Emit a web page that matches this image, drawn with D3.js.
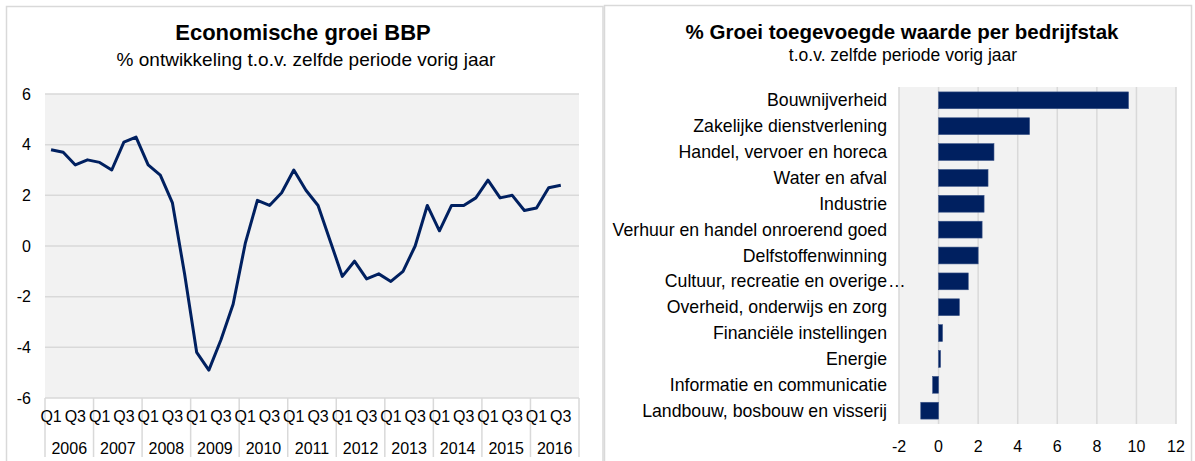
<!DOCTYPE html>
<html>
<head>
<meta charset="utf-8">
<script src="https://cdn.jsdelivr.net/npm/d3@7"></script>
<style>
  body { margin: 0; background: #fff; }
  svg { display: block; font-family: "Liberation Sans", Arial, sans-serif; }
</style>
</head>
<body>
<svg id="chart" width="1195" height="461"></svg>
<script>
// ---- data ----
var years = ["2006", "2007", "2008", "2009", "2010", "2011", "2012", "2013", "2014", "2015", "2016"];
var quarterNames = ["Q1", "Q2", "Q3", "Q4"];
var growth = [3.8, 3.7, 3.2, 3.4, 3.3, 3.0, 4.1, 4.3,
              3.2, 2.8, 1.7, -1.1, -4.2, -4.9, -3.7, -2.3,
              0.1, 1.8, 1.6, 2.1, 3.0, 2.2, 1.6, 0.2,
              -1.2, -0.6, -1.3, -1.1, -1.4, -1.0, 0.0, 1.6,
              0.6, 1.6, 1.6, 1.9, 2.6, 1.9, 2.0, 1.4,
              1.5, 2.3, 2.4];
var growthTicks = [-6, -4, -2, 0, 2, 4, 6];

var sectors = ["Bouwnijverheid", "Zakelijke dienstverlening", "Handel, vervoer en horeca",
               "Water en afval", "Industrie", "Verhuur en handel onroerend goed",
               "Delfstoffenwinning", "Cultuur, recreatie en overige…", "Overheid, onderwijs en zorg",
               "Financiële instellingen", "Energie", "Informatie en communicatie",
               "Landbouw, bosbouw en visserij"];
var sectorGrowth = [9.6, 4.6, 2.8, 2.5, 2.3, 2.2, 2.0, 1.5, 1.05, 0.2, 0.1, -0.3, -0.9];
var sectorTicks = [-2, 0, 2, 4, 6, 8, 10, 12];

var navy = "#002060";
var grid = "#d9d9d9";
var plotBg = "#f2f2f2";

var svg = d3.select("#chart");

// panel frames
svg.append("rect").attr("x", 6.5).attr("y", 6.5).attr("width", 596.5).attr("height", 470)
  .attr("fill", "none").attr("stroke", grid).attr("stroke-width", 1.5);
svg.append("rect").attr("x", 604.5).attr("y", 5.5).attr("width", 587).attr("height", 470)
  .attr("fill", "none").attr("stroke", grid).attr("stroke-width", 1.5);

// ---- left chart: economische groei ----
var quarters = [];
years.forEach(function (y) {
  quarterNames.forEach(function (q) { quarters.push(y + " " + q); });
});

var xq = d3.scaleBand().domain(quarters).range([45, 579]);
var yg = d3.scaleLinear().domain([-6, 6]).range([398, 94]);

var left = svg.append("g");

left.append("text").attr("x", 303).attr("y", 40).attr("text-anchor", "middle")
  .attr("font-size", 22).attr("font-weight", "bold").text("Economische groei BBP");
left.append("text").attr("x", 306).attr("y", 66).attr("text-anchor", "middle")
  .attr("font-size", 19).text("% ontwikkeling t.o.v. zelfde periode vorig jaar");

left.append("rect").attr("x", 45).attr("y", yg(6)).attr("width", 579 - 45)
  .attr("height", yg(-6) - yg(6)).attr("fill", plotBg);

left.selectAll(".hgrid").data(growthTicks).enter().append("line")
  .attr("x1", 45).attr("x2", 579)
  .attr("y1", function (d) { return yg(d); }).attr("y2", function (d) { return yg(d); })
  .attr("stroke", grid).attr("stroke-width", 1.5);

left.selectAll(".ytick").data(growthTicks).enter().append("text")
  .attr("x", 31).attr("y", function (d) { return yg(d) + 5.5; })
  .attr("text-anchor", "end").attr("font-size", 16).text(function (d) { return d; });

// year separators below the plot
var yearEdges = years.map(function (y) { return xq(y + " Q1"); }).concat([579]);
left.selectAll(".ysep").data(yearEdges).enter().append("line")
  .attr("x1", function (d) { return d; }).attr("x2", function (d) { return d; })
  .attr("y1", yg(-6)).attr("y2", 457)
  .attr("stroke", grid).attr("stroke-width", 1.5);

// Q1 / Q3 labels
var qLabels = quarters.filter(function (q) { return /Q1|Q3/.test(q); });
left.selectAll(".qlab").data(qLabels).enter().append("text")
  .attr("x", function (d) { return xq(d) + xq.bandwidth() / 2; })
  .attr("y", 422).attr("text-anchor", "middle").attr("font-size", 16)
  .text(function (d) { return d.split(" ")[1]; });

left.selectAll(".ylab").data(years).enter().append("text")
  .attr("x", function (d) { return xq(d + " Q1") + xq.bandwidth() * 2; })
  .attr("y", 454).attr("text-anchor", "middle").attr("font-size", 16)
  .text(function (d) { return d; });

var line = d3.line()
  .x(function (d, i) { return xq(quarters[i]) + xq.bandwidth() / 2; })
  .y(function (d) { return yg(d); });

left.append("path").datum(growth).attr("d", line)
  .attr("fill", "none").attr("stroke", navy).attr("stroke-width", 3)
  .attr("stroke-linejoin", "round");

// ---- right chart: groei per bedrijfstak ----
var xs = d3.scaleLinear().domain([-2, 12]).range([899, 1176]);
var ys = d3.scaleBand().domain(sectors).range([87, 424]).paddingInner(0.35).paddingOuter(0.19);

var right = svg.append("g");

right.append("text").attr("x", 902).attr("y", 39).attr("text-anchor", "middle")
  .attr("font-size", 20.5).attr("font-weight", "bold").text("% Groei toegevoegde waarde per bedrijfstak");
right.append("text").attr("x", 903).attr("y", 61).attr("text-anchor", "middle")
  .attr("font-size", 17.5).text("t.o.v. zelfde periode vorig jaar");

right.append("rect").attr("x", xs(-2)).attr("y", 87).attr("width", xs(12) - xs(-2))
  .attr("height", 424 - 87).attr("fill", plotBg);

right.selectAll(".vgrid").data(sectorTicks).enter().append("line")
  .attr("x1", function (d) { return xs(d); }).attr("x2", function (d) { return xs(d); })
  .attr("y1", 87).attr("y2", 424)
  .attr("stroke", grid).attr("stroke-width", 1.5);

right.selectAll(".xtick").data(sectorTicks).enter().append("text")
  .attr("x", function (d) { return xs(d); }).attr("y", 452)
  .attr("text-anchor", "middle").attr("font-size", 16).text(function (d) { return d; });

right.selectAll(".bar").data(sectorGrowth).enter().append("rect")
  .attr("x", function (d) { return xs(Math.min(0, d)); })
  .attr("y", function (d, i) { return ys(sectors[i]); })
  .attr("width", function (d) { return Math.abs(xs(d) - xs(0)); })
  .attr("height", ys.bandwidth())
  .attr("fill", navy).attr("stroke", "#3a5488").attr("stroke-width", 0.6);

var labels = right.selectAll(".slab").data(sectors).enter().append("g");
labels.append("text")
  .attr("x", 887).attr("y", function (d) { return ys(d) + ys.bandwidth() / 2 + 6; })
  .attr("text-anchor", "end").attr("font-size", 17.7)
  .text(function (d) { return d.replace("…", ""); });
labels.filter(function (d) { return d.indexOf("…") >= 0; }).append("text")
  .attr("x", 888).attr("y", function (d) { return ys(d) + ys.bandwidth() / 2 + 6; })
  .attr("font-size", 17.7).text("…");
</script>
</body>
</html>
